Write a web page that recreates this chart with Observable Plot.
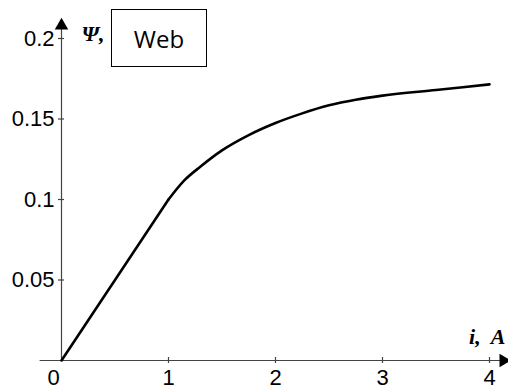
<!DOCTYPE html>
<html><head><meta charset="utf-8">
<script src="https://cdn.jsdelivr.net/npm/d3@7"></script>
<script src="https://cdn.jsdelivr.net/npm/@observablehq/plot@0.6"></script>
<style>
html,body{margin:0;padding:0;background:#fff;}
#wrap{position:relative;width:508px;height:390px;}
#legend{position:absolute;left:111px;top:9px;width:96px;height:58px;border:1px solid #000;box-sizing:border-box;
 font-family:"Open Sans",sans-serif;font-size:24px;display:flex;align-items:center;justify-content:center;color:#000;}
</style></head>
<body><div id="wrap"></div>
<script>
const current = [0, 1, 1.15, 1.3, 1.5, 1.75, 2, 2.25, 2.5, 2.75, 3, 3.5, 4];
const flux = [0, 0.1, 0.112, 0.1205, 0.1305, 0.140, 0.1475, 0.1535, 0.1585, 0.162, 0.1645, 0.168, 0.1715];
const xTicks = [0, 1, 2, 3, 4];
const yTicks = [0.05, 0.1, 0.15, 0.2];
const yLabel = "Ψ,";
const xLabel = "i,  A";
const legendText = "Web";

const data = current.map((c, k) => ({i: c, psi: flux[k]}));
const axisColor = "#444";
const sans = "'Liberation Sans', Arial, sans-serif";
const serif = "'Liberation Serif', 'Times New Roman', serif";

const chart = Plot.plot({
  width: 508, height: 390,
  marginLeft: 61, marginRight: 19, marginTop: 38, marginBottom: 30,
  x: {type: "linear", domain: [0, 4], axis: null},
  y: {type: "linear", domain: [0, 0.2], axis: null},
  style: {background: "#fff", overflow: "visible", fontFamily: sans},
  marks: [
    Plot.ruleY([0], {x1: -0.2, x2: 4.12, stroke: axisColor, strokeWidth: 1.2}),
    Plot.ruleX([0], {y1: 0, y2: 0.207, stroke: axisColor, strokeWidth: 1.2}),
    Plot.dot([{x: 4.13, y: 0}], {x: "x", y: "y", symbol: "triangle", r: 5, fill: "#000", stroke: "none", rotate: 90}),
    Plot.dot([{x: 0, y: 0.208}], {x: "x", y: "y", symbol: "triangle", r: 5, fill: "#000", stroke: "none"}),
    Plot.ruleX(xTicks.slice(1), {x: d => d, y1: 0, y2: 0, insetTop: -3, insetBottom: -3, stroke: axisColor, strokeWidth: 1.2}),
    Plot.ruleY(yTicks, {y: d => d, x1: 0, x2: 0, insetLeft: -3, insetRight: -3, stroke: axisColor, strokeWidth: 1.2}),
    Plot.text(xTicks.slice(1), {x: d => d, y: d => 0, text: d => String(d), dy: 17, lineAnchor: "middle",
      fontSize: 22, fontFamily: sans, fill: "#000"}),
    Plot.text(xTicks.slice(0, 1), {x: d => d, y: d => 0, text: d => String(d), dy: 17, dx: -8, lineAnchor: "middle",
      fontSize: 22, fontFamily: sans, fill: "#000"}),
    Plot.text(yTicks, {x: d => 0, y: d => d, text: d => String(d), dx: -7, textAnchor: "end",
      fontSize: 22, fontFamily: sans, fill: "#000"}),
    Plot.text([yLabel], {x: d => 0, y: d => 0.2, text: d => d, dx: 20, dy: -5, textAnchor: "start",
      fontSize: 22, fontStyle: "italic", fontWeight: "bold", fontFamily: serif, fill: "#000"}),
    Plot.text([xLabel], {x: d => 4.15, y: d => 0, text: d => d, dy: -24, textAnchor: "end",
      fontSize: 22, fontStyle: "italic", fontWeight: "bold", fontFamily: serif, fill: "#000"}),
    Plot.line(data.filter(d => d.i <= 1), {x: "i", y: "psi", curve: "linear", stroke: "#000", strokeWidth: 2.6, strokeLinecap: "round"}),
    Plot.line(data.filter(d => d.i >= 1), {x: "i", y: "psi", curve: "monotone-x", stroke: "#000", strokeWidth: 2.6, strokeLinecap: "round"})
  ]
});
const wrap = document.getElementById("wrap");
wrap.appendChild(chart);
const lg = document.createElement("div");
lg.id = "legend";
lg.textContent = legendText;
wrap.appendChild(lg);
</script>
</body></html>
